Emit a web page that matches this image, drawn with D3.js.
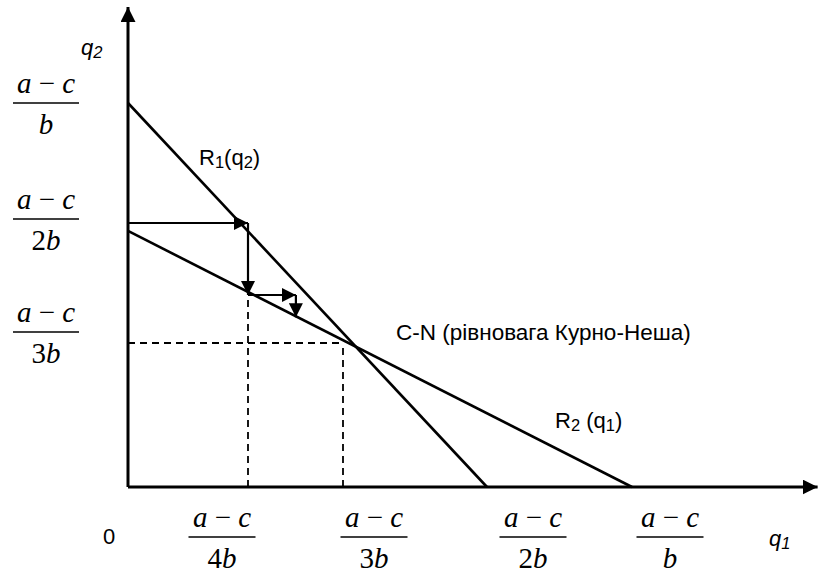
<!DOCTYPE html>
<html>
<head>
<meta charset="utf-8">
<script src="https://cdn.jsdelivr.net/npm/d3@7"></script>
<style>
  body { margin: 0; background: #fff; }
  svg { display: block; }
</style>
</head>
<body>
<svg id="chart"></svg>
<script>
// values in units of (a-c)/b
const xTicks = [1 / 4, 1 / 3, 1 / 2, 1];
const xTickDen = ['4', '3', '2', ''];
const yTicks = [1, 1 / 2, 1 / 3];
const yTickDen = ['', '2', '3'];

const reaction1 = [[0, 1], [0.5, 0]];          // R1(q2)
const reaction2 = [[0, 0.489], [1, 0]];        // R2(q1)
const equilibrium = [1 / 3, 1 / 3];
const cobweb = [[0, 0.5], [0.25, 0.5], [0.25, 0.40], [0.292, 0.40], [0.292, 0.369]];
const axisEnd = { x: 1.64, y: 1.4 };

const W = 820, H = 573;
const svg = d3.select('#chart').attr('width', W).attr('height', H);

// schematic drawing: tick values are not evenly spaced in the original
const x = d3.scaleLinear()
    .domain([0, 1 / 4, 1 / 3, 1 / 2, 1])
    .range([128, 248, 343, 487, 632]);
const y = d3.scaleLinear()
    .domain([0, 1 / 3, 1 / 2, 1])
    .range([487, 343, 223, 103]);

const defs = svg.append('defs');
function marker(id, len, wid) {
    defs.append('marker')
        .attr('id', id)
        .attr('markerUnits', 'userSpaceOnUse')
        .attr('viewBox', `0 ${-wid / 2} ${len} ${wid}`)
        .attr('refX', len).attr('refY', 0)
        .attr('markerWidth', len).attr('markerHeight', wid)
        .attr('orient', 'auto')
        .append('path')
        .attr('d', `M0,${-wid / 2}L${len},0L0,${wid / 2}Z`)
        .attr('fill', '#000');
}
marker('axisArrow', 15, 15);
marker('smallArrow', 14, 14);

const line = d3.line().x(d => x(d[0])).y(d => y(d[1]));

// Axes
svg.append('path')
    .attr('d', line([[0, 0], [axisEnd.x, 0]]))
    .attr('stroke', '#000').attr('stroke-width', 3)
    .attr('marker-end', 'url(#axisArrow)');
svg.append('path')
    .attr('d', line([[0, 0], [0, axisEnd.y]]))
    .attr('stroke', '#000').attr('stroke-width', 3)
    .attr('marker-end', 'url(#axisArrow)');

// Dashed guides
const dashed = [
    [[equilibrium[0], 0], equilibrium],
    [[0, equilibrium[1]], equilibrium],
    [[cobweb[2][0], 0], cobweb[2]]
];
svg.selectAll('.guide')
    .data(dashed)
    .enter()
    .append('path')
    .attr('class', 'guide')
    .attr('d', d => line(d))
    .attr('fill', 'none')
    .attr('stroke', '#000')
    .attr('stroke-width', 1.8)
    .attr('stroke-dasharray', '7,5');

// Reaction functions
svg.selectAll('.reaction')
    .data([reaction1, reaction2])
    .enter()
    .append('path')
    .attr('class', 'reaction')
    .attr('d', d => line(d))
    .attr('stroke', '#000')
    .attr('stroke-width', 2.6);

// Cobweb arrows
svg.selectAll('.step')
    .data(d3.pairs(cobweb))
    .enter()
    .append('path')
    .attr('class', 'step')
    .attr('d', d => line(d))
    .attr('stroke', '#000')
    .attr('stroke-width', 2.2)
    .attr('marker-end', 'url(#smallArrow)');

// Fraction labels
function fraction(g, cx, barY, den, barW) {
    const num = g.append('text')
        .attr('x', cx).attr('y', barY - 10)
        .attr('text-anchor', 'middle')
        .attr('font-family', 'Liberation Serif, Times New Roman, serif')
        .attr('font-size', 29);
    num.append('tspan').attr('font-style', 'italic').text('a');
    num.append('tspan').text(' \u2212 ');
    num.append('tspan').attr('font-style', 'italic').text('c');

    g.append('line')
        .attr('x1', cx - barW / 2).attr('x2', cx + barW / 2)
        .attr('y1', barY).attr('y2', barY)
        .attr('stroke', '#000').attr('stroke-width', 1.6);

    const dt = g.append('text')
        .attr('x', cx).attr('y', barY + 31)
        .attr('text-anchor', 'middle')
        .attr('font-family', 'Liberation Serif, Times New Roman, serif')
        .attr('font-size', 29);
    if (den) dt.append('tspan').text(den);
    dt.append('tspan').attr('font-style', 'italic').text('b');
}

// label offsets from their tick (labels were placed loosely in the original)
const xLabelShift = [-26, 31, 46, 38];
const yLabelShift = [0, -4, -11];

const xLabels = svg.append('g');
xTicks.forEach((v, i) => fraction(xLabels, x(v) + xLabelShift[i], 537, xTickDen[i], 67));
const yLabels = svg.append('g');
yTicks.forEach((v, i) => fraction(yLabels, 46, y(v) + yLabelShift[i], yTickDen[i], 66));

// Text labels
const sans = 'Liberation Sans, Arial, sans-serif';
svg.append('text')
    .attr('x', 103).attr('y', 544)
    .attr('font-family', sans).attr('font-size', 22)
    .text('0');

function subLabel(px, py, base, sub, rest, size, italic) {
    const t = svg.append('text')
        .attr('x', px).attr('y', py)
        .attr('font-family', sans).attr('font-size', size)
        .attr('font-style', italic ? 'italic' : 'normal');
    t.append('tspan').text(base);
    t.append('tspan').attr('font-size', size * 0.75).attr('dy', 3).text(sub);
    if (rest) {
        rest.forEach(r => {
            t.append('tspan').attr('font-size', r.sub ? size * 0.75 : size)
                .attr('dy', r.dy).text(r.t);
        });
    }
    return t;
}

subLabel(769, 546, 'q', '1', null, 22, true);
subLabel(81, 55, 'q', '2', null, 22, true);
subLabel(199, 165, 'R', '1', [{ t: '(q', dy: -3 }, { t: '2', dy: 3, sub: true }, { t: ')', dy: -3 }], 22, false);
subLabel(555, 428, 'R', '2', [{ t: ' (q', dy: -3 }, { t: '1', dy: 3, sub: true }, { t: ')', dy: -3 }], 22, false);

svg.append('text')
    .attr('x', 396).attr('y', 340)
    .attr('font-family', sans).attr('font-size', 22.5)
    .text('C-N (рівновага Курно-Неша)');
</script>
</body>
</html>
